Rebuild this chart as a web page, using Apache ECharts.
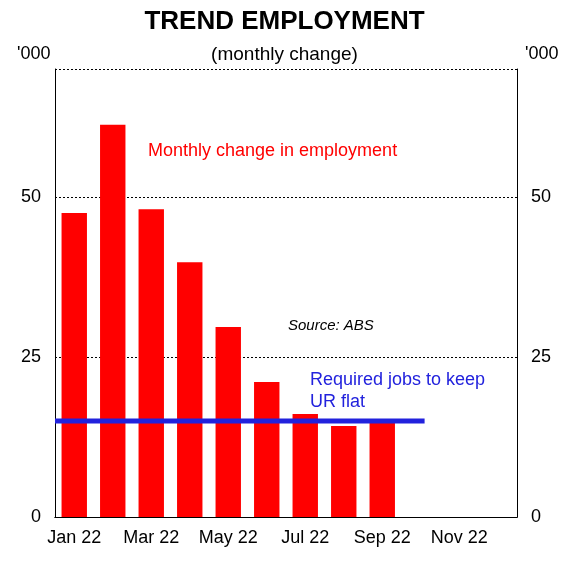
<!DOCTYPE html>
<html><head><meta charset="utf-8">
<script src="https://cdn.jsdelivr.net/npm/echarts@6/dist/echarts.min.js"></script>
<style>html,body{margin:0;padding:0;background:#fff}#c{width:569px;height:569px}</style>
</head><body><div id="c"></div>
<script>
const categories = ['Jan 22','Feb 22','Mar 22','Apr 22','May 22','Jun 22','Jul 22','Aug 22','Sep 22','Oct 22','Nov 22','Dec 22'];
const employmentChange = [47.5, 61.3, 48.1, 39.8, 29.7, 21.1, 16.1, 14.2, 15.0, null, null, null];
const requiredJobs = [[0, 15], [9.6, 15]];
const yTicks = [0, 25, 50];

const chart = echarts.init(document.getElementById('c'));
const font = 'Arial, Liberation Sans, sans-serif';
const yLab = {color: '#000', fontFamily: font, fontSize: 18, margin: 14, formatter: v => yTicks.includes(v) ? v : ''};
chart.setOption({
  animation: false,
  title: [
    {text: 'TREND EMPLOYMENT', left: 'center', top: 4, textStyle: {fontFamily: font, fontSize: 26, fontWeight: 'bold', color: '#000'}},
    {text: '(monthly change)', left: 'center', top: 40, textStyle: {fontFamily: font, fontSize: 19, fontWeight: 'normal', color: '#000'}},
    {text: "'000", left: 12, top: 40, textStyle: {fontFamily: font, fontSize: 18, fontWeight: 'normal', color: '#000'}},
    {text: "'000", left: 520, top: 40, textStyle: {fontFamily: font, fontSize: 18, fontWeight: 'normal', color: '#000'}}
  ],
  grid: {left: 55, right: 52, top: 69, bottom: 52},
  xAxis: [
    {type: 'category', data: categories, boundaryGap: true,
     axisLine: {lineStyle: {color: '#000', width: 1}}, axisTick: {show: false},
     axisLabel: {interval: 1, color: '#000', fontFamily: font, fontSize: 18, margin: 12}},
    {type: 'value', min: 0, max: 12, position: 'top',
     axisLine: {show: true, lineStyle: {color: '#000', width: 1}}, axisTick: {show: false},
     axisLabel: {show: false}, splitLine: {show: false}}
  ],
  yAxis: [
    {type: 'value', min: 0, max: 70, interval: 25, position: 'left',
     axisLine: {show: true, lineStyle: {color: '#000'}}, axisTick: {show: false},
     axisLabel: yLab,
     splitLine: {show: true, lineStyle: {color: '#000', type: [2, 2], width: 1}}},
    {type: 'value', min: 0, max: 70, interval: 25, position: 'right',
     axisLine: {show: true, lineStyle: {color: '#000'}}, axisTick: {show: false},
     axisLabel: yLab, splitLine: {show: false}}
  ],
  series: [
    {type: 'bar', data: employmentChange, barWidth: '66%', itemStyle: {color: '#ff0000'}, xAxisIndex: 0, yAxisIndex: 0},
    {type: 'line', data: requiredJobs, xAxisIndex: 1, yAxisIndex: 0, symbol: 'none',
     lineStyle: {color: '#2222dd', width: 5}}
  ],
  graphic: [
    {type: 'text', left: 148, top: 142, style: {text: 'Monthly change in employment', fill: '#ff0000', font: '18px ' + font}},
    {type: 'text', left: 288, top: 318, style: {text: 'Source: ABS', fill: '#000', font: 'italic 15px ' + font}},
    {type: 'text', left: 310, top: 369, style: {text: 'Required jobs to keep\nUR flat', fill: '#2222dd', font: '18px ' + font, lineHeight: 22}}
  ]
});
</script></body></html>
